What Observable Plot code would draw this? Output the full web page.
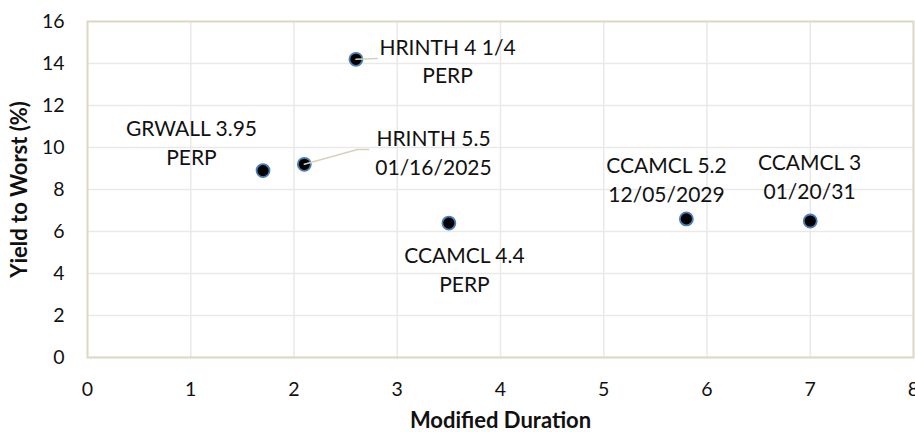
<!DOCTYPE html>
<html>
<head>
<meta charset="utf-8">
<script src="https://cdn.jsdelivr.net/npm/d3@7"></script>
<script src="https://cdn.jsdelivr.net/npm/@observablehq/plot@0.6"></script>
<style>
  html, body { margin: 0; padding: 0; background: #fff; }
  #chart { width: 915px; height: 432px; overflow: hidden; }
</style>
</head>
<body>
<div id="chart"></div>
<script>
// ---- data ----
const bondNames = [
  "GRWALL 3.95\nPERP",
  "HRINTH 5.5\n01/16/2025",
  "HRINTH 4 1/4\nPERP",
  "CCAMCL 4.4\nPERP",
  "CCAMCL 5.2\n12/05/2029",
  "CCAMCL 3\n01/20/31"
];
const modifiedDuration = [1.7, 2.1, 2.6, 3.5, 5.8, 7.0];
const yieldToWorst = [8.9, 9.2, 14.2, 6.4, 6.6, 6.5];
const xTicks = [0, 1, 2, 3, 4, 5, 6, 7, 8];
const yTicks = [0, 2, 4, 6, 8, 10, 12, 14, 16];

// ---- label layout (data units) ----
const labelX = [1.007, 3.351, 3.487, 3.651, 5.608, 6.993];
const labelY = [10.32, 9.80, 14.18, 4.27, 8.53, 8.70];
// leader lines: point -> elbow -> end (data units)
const leaderPts = [
  {id: 1, x: 2.1, y: 9.2}, {id: 1, x: 2.615, y: 9.905}, {id: 1, x: 2.722, y: 9.905},
  {id: 2, x: 2.6, y: 14.2}, {id: 2, x: 2.809, y: 14.24}
];

const idx = d3.range(bondNames.length);
const font = "Lato, 'Open Sans', sans-serif";

const chart = Plot.plot({
  width: 915,
  height: 432,
  marginLeft: 87,
  marginRight: 2,
  marginTop: 21,
  marginBottom: 75,
  style: {fontFamily: font, fontSize: "19px", color: "#111", background: "#fff", overflow: "hidden"},
  x: {domain: [0, 8]},
  y: {domain: [0, 16]},
  marks: [
    Plot.gridX(xTicks, {stroke: "#e9e9e9", strokeOpacity: 1, strokeWidth: 1.5}),
    Plot.gridY(yTicks, {stroke: "#e9e9e9", strokeOpacity: 1, strokeWidth: 1.5}),
    Plot.frame({stroke: "#ddd9c4", strokeWidth: 2}),
    Plot.axisX(xTicks, {tickSize: 0, tickPadding: 25, label: null, fontSize: 19.5, fill: "#111"}),
    Plot.axisY(yTicks, {tickSize: 0, tickPadding: 23, label: null, fontSize: 19.5, fill: "#111"}),
    Plot.dot(idx, {x: i => modifiedDuration[i], y: i => yieldToWorst[i], r: 6.5, fill: "#000", stroke: "#4a7ebb", strokeWidth: 1.8}),
    Plot.line(leaderPts, {x: "x", y: "y", z: "id", stroke: "#d6d2bb", strokeWidth: 1.6, curve: "linear"}),
    Plot.text(idx, {x: i => labelX[i], y: i => labelY[i], text: i => bondNames[i], lineAnchor: "middle", lineHeight: 1.38, fontSize: 21, fill: "#111"}),
    Plot.text(["Modified Duration"], {frameAnchor: "bottom", dy: 63, textAnchor: "middle", lineAnchor: "middle", fontWeight: "bold", fontSize: 22, fill: "#111"}),
    Plot.text(["Yield to Worst (%)"], {frameAnchor: "left", dx: -68, rotate: -90, textAnchor: "middle", lineAnchor: "middle", fontWeight: "bold", fontSize: 22, fill: "#111"})
  ]
});
document.getElementById("chart").appendChild(chart);
</script>
</body>
</html>
